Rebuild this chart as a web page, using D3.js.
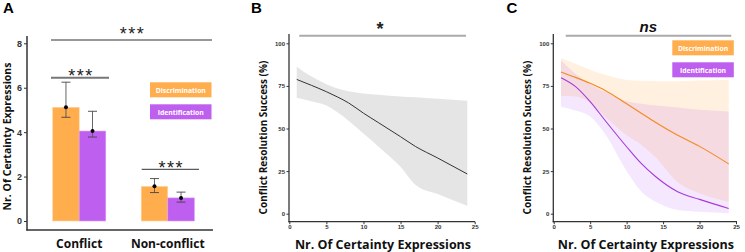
<!DOCTYPE html>
<html>
<head>
<meta charset="utf-8">
<script src="https://cdn.jsdelivr.net/npm/d3@7"></script>
<style>
  body { margin: 0; background: #fff; }
  svg text { font-family: "Liberation Sans", Arial, sans-serif; }
  .ttl { font-family: "Open Sans", sans-serif; font-weight: bold; }
  .tick text { font-weight: bold; fill: #333; }
</style>
</head>
<body>
<script>
const w = 745, h = 252
const orange = '#FFAD4D', purple = '#BF5FF0'
const lineOrange = '#F5891F', linePurple = '#A43BDB'

// panel A data
const groups = ['Conflict', 'Non-conflict']
const conditions = ['Discrimination', 'Identification']
const barMeans = [[5.12, 4.05], [1.56, 1.04]]
const errLow = [[4.67, 3.78], [1.28, 0.85]]
const errHigh = [[6.25, 4.94], [1.91, 1.30]]
const ticksA = [0, 2, 4, 6, 8]

// panel B data
const xsB = [1, 3, 5, 6.5, 8, 10, 12, 15, 17, 20, 24]
const fitB = [78.8, 75.3, 71.6, 68.5, 65, 59, 53.5, 45.2, 39.5, 32.7, 23.3]
const upB = [86.3, 80.5, 76, 73.5, 71.8, 70.5, 69.8, 68.8, 68.3, 67.4, 66.3]
const loB = [68, 66, 63.5, 59.5, 54.5, 47, 39.5, 27.5, 17, 11.5, 4.7]

// panel C data
const xsC = [1, 3, 5, 7, 10, 12, 14, 17, 20, 24]
const fitDisc = [83.2, 80, 76.5, 72.5, 64.5, 59, 53.5, 46, 39.5, 29.2]
const upDisc = [91.2, 88, 84.5, 81.5, 78.5, 78, 77.8, 77.8, 78.2, 78.5]
const loDisc = [69, 68.8, 65, 57, 46, 40.5, 33, 18.5, 12, 7]
const fitIdent = [79.8, 74.6, 65.8, 55, 39.3, 29.5, 21.7, 12.9, 8.4, 3.1]
const upIdent = [90, 82, 76, 71.5, 66, 64.5, 63.5, 62.3, 61, 60]
const loIdent = [62.8, 60.5, 57, 47, 25, 13, 7, 2.2, 1.2, 0.3]

const ticksX = [0, 5, 10, 15, 20, 25]
const ticksY = [0, 25, 50, 75, 100]

const svg = d3.select('body').append('svg').attr('width', w).attr('height', h)

function letter(t, x) {
  svg.append('text').text(t).attr('x', x).attr('y', 13)
    .style('font-size', '15px').style('font-weight', 'bold')
}

function legend(x, y) {
  const cols = [orange, purple]
  conditions.forEach((c, i) => {
    svg.append('rect').attr('x', x).attr('y', y + i * 22).attr('width', 61.5).attr('height', 15)
      .attr('fill', cols[i])
    svg.append('text').attr('class', 'ttl').text(c).attr('x', x + 30.75).attr('y', y + i * 22 + 10.2)
      .attr('text-anchor', 'middle').style('font-size', '6.8px').attr('fill', '#fff')
  })
}

// ---------- Panel A ----------
letter('A', 3)
const yA = d3.scaleLinear().domain([0, 8]).range([221, 43.3])
const xA = d3.scaleBand().domain(groups).range([27, 220]).paddingInner(0.4).paddingOuter(0.29)
const xSub = d3.scaleBand().domain(conditions).range([0, xA.bandwidth()])
const colA = d3.scaleOrdinal().domain(conditions).range([orange, purple])

svg.append('g').attr('transform', 'translate(27,0)')
  .call(d3.axisLeft(yA).tickValues(ticksA).tickSize(3).tickPadding(2))
  .call(g => g.select('.domain').remove())
  .call(g => g.selectAll('.tick line').attr('stroke', '#333'))
  .call(g => g.selectAll('.tick text').style('font-size', '9px'))
svg.append('line').attr('x1', 27).attr('x2', 27).attr('y1', 36).attr('y2', 230.5)
  .attr('stroke', '#333').attr('stroke-width', 1.5)
svg.append('line').attr('x1', 26.3).attr('x2', 213).attr('y1', 230).attr('y2', 230)
  .attr('stroke', '#333').attr('stroke-width', 1.5)

groups.forEach((g, gi) => {
  conditions.forEach((c, ci) => {
    const x0 = xA(g) + xSub(c)
    const cx = x0 + xSub.bandwidth() / 2
    svg.append('rect').attr('x', x0).attr('y', yA(barMeans[gi][ci]))
      .attr('width', xSub.bandwidth()).attr('height', yA(0) - yA(barMeans[gi][ci]))
      .attr('fill', colA(c)).attr('stroke', ci === 0 ? '#FFD6A6' : '#D89CF7').attr('stroke-width', 0.6)
    svg.append('line').attr('x1', cx).attr('x2', cx)
      .attr('y1', yA(errLow[gi][ci])).attr('y2', yA(errHigh[gi][ci]))
      .attr('stroke', '#555').attr('stroke-width', 0.9)
    ;[errLow[gi][ci], errHigh[gi][ci]].forEach(v => {
      svg.append('line').attr('x1', cx - 4.5).attr('x2', cx + 4.5)
        .attr('y1', yA(v)).attr('y2', yA(v)).attr('stroke', '#444').attr('stroke-width', 0.9)
    })
    svg.append('circle').attr('cx', cx).attr('cy', yA(barMeans[gi][ci])).attr('r', 2).attr('fill', '#000')
  })
  svg.append('text').attr('class', 'ttl').text(g)
    .attr('x', xA(g) + xA.bandwidth() / 2).attr('y', 248)
    .attr('text-anchor', 'middle').style('font-size', '12px').attr('fill', '#111')
})

// significance A
function sig(x1, x2, y, col, sw, label, ly) {
  svg.append('line').attr('x1', x1).attr('x2', x2).attr('y1', y).attr('y2', y)
    .attr('stroke', col).attr('stroke-width', sw)
  svg.append('text').text(label).attr('x', (x1 + x2) / 2 + 1).attr('y', ly)
    .attr('text-anchor', 'middle').style('font-size', '18px').style('letter-spacing', '1.5px')
    .attr('fill', '#222')
}
sig(51, 212, 40, '#333', 1.1, '***', 39.6)
sig(51, 109, 77.7, '#777', 2, '***', 82.2)
sig(141.7, 199, 169.3, '#333', 1, '***', 174)

legend(150, 82.3)

svg.append('text').attr('class', 'ttl').text('Nr. Of Certainty Expressions')
  .attr('transform', 'translate(11,136.5) rotate(-90)').attr('text-anchor', 'middle')
  .style('font-size', '10.5px').attr('fill', '#111')

// ---------- Panels B and C ----------
function linePanel(x0, x1, axisX, axisRight, bands, lines) {
  const xs = d3.scaleLinear().domain([0, 25]).range([x0, x1])
  const ys = d3.scaleLinear().domain([0, 100]).range([213.7, 43.3])

  bands.forEach(b => {
    const area = d3.area().x((d, i) => xs(b.x[i])).y0((d, i) => ys(b.lo[i])).y1((d, i) => ys(b.up[i]))
      .curve(d3.curveMonotoneX)
    svg.append('path').datum(b.x).attr('d', area).attr('fill', b.fill).attr('fill-opacity', b.op)
  })
  lines.forEach(l => {
    const line = d3.line().x((d, i) => xs(l.x[i])).y((d, i) => ys(l.y[i])).curve(d3.curveMonotoneX)
    svg.append('path').datum(l.x).attr('d', line).attr('fill', 'none')
      .attr('stroke', l.color).attr('stroke-width', l.sw)
  })

  svg.append('g').attr('transform', `translate(${axisX},0)`)
    .call(d3.axisLeft(ys).tickValues(ticksY).tickSize(2.5).tickPadding(1.5))
    .call(g => g.select('.domain').remove())
    .call(g => g.selectAll('.tick line').attr('stroke', '#333'))
    .call(g => g.selectAll('.tick text').style('font-size', '6px'))
  svg.append('g').attr('transform', 'translate(0,221.7)')
    .call(d3.axisBottom(xs).tickValues(ticksX).tickSize(2.5).tickPadding(1))
    .call(g => g.select('.domain').remove())
    .call(g => g.selectAll('.tick line').attr('stroke', '#333'))
    .call(g => g.selectAll('.tick text').style('font-size', '6px'))
  svg.append('line').attr('x1', axisX).attr('x2', axisX).attr('y1', 34).attr('y2', 222.3)
    .attr('stroke', '#333').attr('stroke-width', 1.3)
  svg.append('line').attr('x1', axisX - 0.6).attr('x2', axisRight).attr('y1', 221.7).attr('y2', 221.7)
    .attr('stroke', '#333').attr('stroke-width', 1.3)

  const cx = (x0 + x1) / 2
  svg.append('text').attr('class', 'ttl').text('Nr. Of Certainty Expressions')
    .attr('x', cx + 1).attr('y', 249).attr('text-anchor', 'middle')
    .style('font-size', '12.5px').attr('fill', '#111')
  svg.append('text').attr('class', 'ttl').text('Conflict Resolution Success (%)')
    .attr('transform', `translate(${axisX - 22.5},137.5) rotate(-90)`).attr('text-anchor', 'middle')
    .style('font-size', '10px').attr('fill', '#111')
  return xs
}

letter('B', 251)
linePanel(289.3, 474.7, 289, 475,
  [{ x: xsB, lo: loB, up: upB, fill: '#E5E5E5', op: 1 }],
  [{ x: xsB, y: fitB, color: '#333', sw: 1 }])
svg.append('line').attr('x1', 299.3).attr('x2', 466).attr('y1', 35.7).attr('y2', 35.7)
  .attr('stroke', '#AAA').attr('stroke-width', 2)
svg.append('text').text('*').attr('x', 380).attr('y', 35).attr('text-anchor', 'middle')
  .style('font-size', '18px').style('font-weight', 'bold').attr('fill', '#222')

letter('C', 506.5)
linePanel(553.7, 736, 553.3, 737,
  [{ x: xsC, lo: loDisc, up: upDisc, fill: orange, op: 0.18 },
   { x: xsC, lo: loIdent, up: upIdent, fill: purple, op: 0.15 }],
  [{ x: xsC, y: fitDisc, color: lineOrange, sw: 1.1 },
   { x: xsC, y: fitIdent, color: linePurple, sw: 1.1 }])
svg.append('line').attr('x1', 565.7).attr('x2', 731.3).attr('y1', 35.7).attr('y2', 35.7)
  .attr('stroke', '#AAA').attr('stroke-width', 2)
svg.append('text').text('ns').attr('x', 648.3).attr('y', 32).attr('text-anchor', 'middle')
  .style('font-size', '15px').style('font-weight', 'bold').style('font-style', 'italic').attr('fill', '#111')
legend(672.3, 40.3)
</script>
</body>
</html>
